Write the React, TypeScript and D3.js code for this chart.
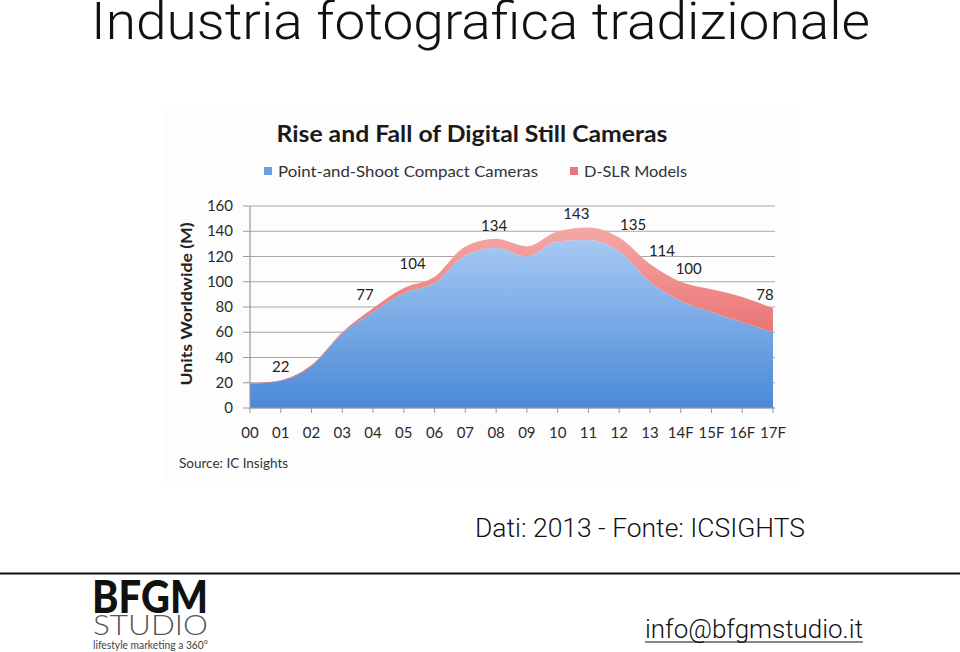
import * as d3 from "d3";
import { useEffect, useRef } from "react";

// categories (years, F = forecast)
const years = ["00", "01", "02", "03", "04", "05", "06", "07", "08", "09", "10", "11", "12", "13", "14F", "15F", "16F", "17F"];
// units worldwide (M)
const compact = [19, 21.5, 33, 59, 76, 91, 99, 121, 127, 120, 132, 133, 124, 100, 85, 76, 68, 60];
const dslr = [0.5, 0.5, 1, 1, 3, 4, 5, 7, 7, 8, 8, 10, 11, 14, 15, 18, 20, 19];
// data labels shown above the total
const labelIdx = [1, 4, 6, 8, 11, 12, 13, 14, 17];
const labelText = ["22", "77", "104", "134", "143", "135", "114", "100", "78"];
const yTicks = [0, 20, 40, 60, 80, 100, 120, 140, 160];

const App = () => {
  const ref: any = useRef();

  useEffect(() => {
    const svg = d3.select(ref.current);
    svg.selectAll("*").remove();

    const x = d3.scalePoint().domain(years).range([250, 773]);
    const y = d3.scaleLinear().domain([0, 160]).range([408, 206]);

    const defs = svg.append("defs");
    const gBlue = defs.append("linearGradient").attr("id", "gBlue").attr("x1", 0).attr("x2", 0).attr("y1", 0).attr("y2", 1);
    gBlue.append("stop").attr("offset", "0%").attr("stop-color", "#a6c9f2");
    gBlue.append("stop").attr("offset", "100%").attr("stop-color", "#4a89d8");
    const gRed = defs.append("linearGradient").attr("id", "gRed").attr("x1", 0).attr("x2", 0).attr("y1", 0).attr("y2", 1);
    gRed.append("stop").attr("offset", "0%").attr("stop-color", "#f5a8a6");
    gRed.append("stop").attr("offset", "100%").attr("stop-color", "#e65a5c");

    // page title
    svg.append("text")
      .attr("x", 91).attr("y", 39)
      .attr("font-family", "Roboto, 'Liberation Sans', sans-serif")
      .attr("font-weight", 300)
      .attr("font-size", 52)
      .attr("textLength", 779).attr("lengthAdjust", "spacingAndGlyphs")
      .attr("fill", "#111")
      .text("Industria fotografica tradizionale");

    // faint picture background
    svg.append("rect").attr("x", 165).attr("y", 105).attr("width", 635).attr("height", 378).attr("fill", "#fdfdfd");

    const chart = svg.append("g").attr("font-family", "Lato, 'Open Sans', sans-serif");

    chart.append("text")
      .attr("x", 472).attr("y", 142).attr("text-anchor", "middle")
      .attr("font-weight", 700).attr("font-size", 22)
      .attr("textLength", 391).attr("lengthAdjust", "spacingAndGlyphs")
      .attr("fill", "#1a1a1a")
      .text("Rise and Fall of Digital Still Cameras");

    // legend
    const legend = [
      { label: "Point-and-Shoot Compact Cameras", color: "#6d9fe0", x: 264, w: 260 },
      { label: "D-SLR Models", color: "#e9767a", x: 570, w: 103 },
    ];
    legend.forEach((l) => {
      chart.append("rect").attr("x", l.x).attr("y", 167).attr("width", 8).attr("height", 8).attr("fill", l.color);
      chart.append("text")
        .attr("x", l.x + 14).attr("y", 177)
        .attr("font-size", 15)
        .attr("textLength", l.w).attr("lengthAdjust", "spacingAndGlyphs")
        .attr("fill", "#333")
        .text(l.label);
    });

    // gridlines
    chart.append("g").selectAll("line").data(yTicks).join("line")
      .attr("x1", 250).attr("x2", 775)
      .attr("y1", (d) => y(d)).attr("y2", (d) => y(d))
      .attr("stroke", "#a9a9a9").attr("stroke-width", 1.2);

    // stacked areas
    const rows = years.map((yr, i) => ({ year: yr, compact: compact[i], dslr: dslr[i] }));
    const series = d3.stack<any>().keys(["compact", "dslr"])(rows);
    const area = d3.area<any>()
      .x((d) => x(d.data.year) as number)
      .y0((d) => y(d[0]))
      .y1((d) => y(d[1]))
      .curve(d3.curveMonotoneX);

    chart.append("g").selectAll("path").data(series).join("path")
      .attr("d", area as any)
      .attr("fill", (d, i) => (i === 0 ? "url(#gBlue)" : "url(#gRed)"));

    // axes
    chart.append("line").attr("x1", 250).attr("x2", 250).attr("y1", 206).attr("y2", 408).attr("stroke", "#999").attr("stroke-width", 1.2);
    chart.append("line").attr("x1", 250).attr("x2", 775).attr("y1", 408).attr("y2", 408).attr("stroke", "#999").attr("stroke-width", 1.2);
    chart.append("g").selectAll("line").data(yTicks).join("line")
      .attr("x1", 243).attr("x2", 250)
      .attr("y1", (d) => y(d)).attr("y2", (d) => y(d))
      .attr("stroke", "#999");
    chart.append("g").selectAll("line").data(years).join("line")
      .attr("x1", (d) => x(d) as number).attr("x2", (d) => x(d) as number)
      .attr("y1", 408).attr("y2", 413)
      .attr("stroke", "#999");

    chart.append("g").selectAll("text").data(yTicks).join("text")
      .attr("x", 233).attr("y", (d) => y(d) + 5)
      .attr("text-anchor", "end").attr("font-size", 15).attr("fill", "#2a2a2a")
      .text((d) => d);

    chart.append("g").selectAll("text").data(years).join("text")
      .attr("x", (d) => x(d) as number).attr("y", 438)
      .attr("text-anchor", "middle").attr("font-size", 15).attr("fill", "#2a2a2a")
      .text((d) => d);

    chart.append("text")
      .attr("transform", "translate(192,304) rotate(-90)")
      .attr("text-anchor", "middle").attr("font-size", 15).attr("font-weight", 700)
      .attr("textLength", 163).attr("lengthAdjust", "spacingAndGlyphs")
      .attr("fill", "#222")
      .text("Units Worldwide (M)");

    // data labels
    const nudge = [0, -8, -22, -2, -12, 14, 12, 8, -8];
    chart.append("g").selectAll("text").data(labelIdx).join("text")
      .attr("x", (d, i) => (x(years[d]) as number) + nudge[i])
      .attr("y", (d) => y(compact[d] + dslr[d]) - 8)
      .attr("text-anchor", "middle").attr("font-size", 15).attr("fill", "#222")
      .text((d, i) => labelText[i]);

    chart.append("text")
      .attr("x", 179).attr("y", 468).attr("font-size", 13.5).attr("fill", "#333")
      .text("Source: IC Insights");

    // footer
    svg.append("text")
      .attr("x", 475).attr("y", 537)
      .attr("font-family", "Roboto, 'Liberation Sans', sans-serif").attr("font-weight", 300)
      .attr("font-size", 25)
      .attr("textLength", 330).attr("lengthAdjust", "spacingAndGlyphs")
      .attr("fill", "#111")
      .text("Dati: 2013 - Fonte: ICSIGHTS");

    svg.append("line").attr("x1", 0).attr("x2", 960).attr("y1", 573.5).attr("y2", 573.5).attr("stroke", "#111").attr("stroke-width", 2);

    const logo = svg.append("g").attr("font-family", "Lato, 'Open Sans', sans-serif");
    logo.append("text").attr("x", 92).attr("y", 613)
      .attr("font-size", 45).attr("font-weight", 900)
      .attr("textLength", 116).attr("lengthAdjust", "spacingAndGlyphs")
      .attr("fill", "#111").text("BFGM");
    logo.append("text").attr("x", 93).attr("y", 635)
      .attr("font-size", 28).attr("font-weight", 300)
      .attr("textLength", 115).attr("lengthAdjust", "spacingAndGlyphs")
      .attr("fill", "#555").text("STUDIO");
    logo.append("text").attr("x", 93).attr("y", 649)
      .attr("font-size", 11)
      .attr("textLength", 115).attr("lengthAdjust", "spacingAndGlyphs")
      .attr("fill", "#444").text("lifestyle marketing a 360°");

    svg.append("text")
      .attr("x", 645).attr("y", 638)
      .attr("font-family", "Roboto, 'Liberation Sans', sans-serif").attr("font-weight", 300)
      .attr("font-size", 25)
      .attr("textLength", 218).attr("lengthAdjust", "spacingAndGlyphs")
      .attr("fill", "#111")
      .text("info@bfgmstudio.it");
    svg.append("line").attr("x1", 645).attr("x2", 863).attr("y1", 642).attr("y2", 642).attr("stroke", "#111").attr("stroke-width", 1);
  }, []);

  return (
    <svg
      ref={ref}
      width={960}
      height={652}
      style={{ position: "absolute", left: 0, top: 0, display: "block", background: "#fff" }}
    />
  );
};

export default App;
